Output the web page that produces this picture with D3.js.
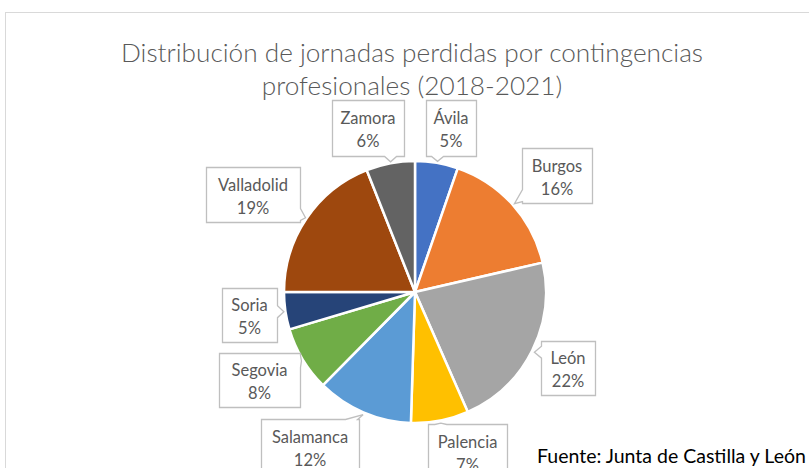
<!DOCTYPE html>
<html>
<head>
<meta charset="utf-8">
<script src="https://cdn.jsdelivr.net/npm/d3@7"></script>
<style>
  body { margin: 0; background: #fff; }
  text { font-family: Lato, "Open Sans", sans-serif; }
</style>
</head>
<body>
<div id="chart"></div>
<script>
  // data (share of lost days, %)
  var regions = ["Ávila", "Burgos", "León", "Palencia", "Salamanca", "Segovia", "Soria", "Valladolid", "Zamora"];
  var shares = [5.3, 16.1, 22.0, 7.1, 11.9, 8.0, 4.6, 19.0, 6.0];
  var colors = ["#4472C4", "#ED7D31", "#A5A5A5", "#FFC000", "#5B9BD5", "#70AD47", "#264478", "#9E480E", "#636363"];
  var titleLines = ["Distribución de jornadas perdidas por contingencias", "profesionales (2018-2021)"];
  var source = "Fuente: Junta de Castilla y León";

  // callout boxes for the data labels (layout only)
  var labelBoxes = [
      {x: 426, y: 100, w: 50, h: 56},
      {x: 522, y: 148, w: 70, h: 55},
      {x: 541, y: 341, w: 54, h: 54},
      {x: 428, y: 424, w: 79, h: 56},
      {x: 261, y: 419, w: 98, h: 56},
      {x: 219, y: 353, w: 81, h: 54},
      {x: 222, y: 288, w: 55, h: 54},
      {x: 206, y: 167, w: 94, h: 55},
      {x: 332, y: 100, w: 72, h: 56}
  ];

  var width = 809, height = 468,
      cx = 415, cy = 292, radius = 131;

  var svg = d3.select("#chart")
      .append("svg")
      .attr("width", width)
      .attr("height", height);

  // chart area border
  svg.append("rect")
      .attr("x", 5.5)
      .attr("y", 12.5)
      .attr("width", 830)
      .attr("height", 480)
      .attr("fill", "#fff")
      .attr("stroke", "#D9D9D9");

  // title
  svg.append("text")
      .attr("x", 412)
      .attr("y", 62)
      .attr("text-anchor", "middle")
      .attr("font-size", 26.2)
      .attr("font-weight", 300)
      .attr("fill", "#595959")
      .selectAll("tspan")
      .data(titleLines)
      .enter()
      .append("tspan")
      .attr("x", 412)
      .attr("dy", function (d, i) { return i == 0 ? 0 : 33; })
      .text(function (d) { return d; });

  var total = d3.sum(shares);
  var pct = d3.format(".0%");

  var pie = d3.pie().sort(null).value(function (d) { return d; });
  var arcs = pie(shares);
  var arc = d3.arc().innerRadius(0).outerRadius(radius);

  var g = svg.append("g")
      .attr("transform", "translate(" + cx + "," + cy + ")");

  g.selectAll("path")
      .data(arcs)
      .enter()
      .append("path")
      .attr("d", arc)
      .attr("fill", function (d, i) { return colors[i]; })
      .attr("stroke", "#fff")
      .attr("stroke-width", 2.5)
      .attr("stroke-linejoin", "round");

  // callout shape: rectangle with a small notch pointing at the slice
  function calloutPath(b, tx, ty) {
      var x0 = b.x, y0 = b.y, x1 = b.x + b.w, y1 = b.y + b.h, half = 6;
      var side;
      var ox = tx < x0 ? x0 - tx : (tx > x1 ? tx - x1 : 0);
      var oy = ty < y0 ? y0 - ty : (ty > y1 ? ty - y1 : 0);
      if (ox >= oy) side = tx < x0 ? "left" : "right";
      else side = ty < y0 ? "top" : "bottom";
      var p = [];
      if (side == "top") {
          var mx = Math.max(x0 + half + 2, Math.min(x1 - half - 2, tx));
          p = [[x0, y0], [mx - half, y0], [tx, ty], [mx + half, y0], [x1, y0], [x1, y1], [x0, y1]];
      } else if (side == "right") {
          var my = Math.max(y0 + half + 2, Math.min(y1 - half - 2, ty));
          p = [[x0, y0], [x1, y0], [x1, my - half], [tx, ty], [x1, my + half], [x1, y1], [x0, y1]];
      } else if (side == "bottom") {
          var mx2 = Math.max(x0 + half + 2, Math.min(x1 - half - 2, tx));
          p = [[x0, y0], [x1, y0], [x1, y1], [mx2 + half, y1], [tx, ty], [mx2 - half, y1], [x0, y1]];
      } else {
          var my2 = Math.max(y0 + half + 2, Math.min(y1 - half - 2, ty));
          p = [[x0, y0], [x1, y0], [x1, y1], [x0, y1], [x0, my2 + half], [tx, ty], [x0, my2 - half]];
      }
      return "M" + p.map(function (q) { return q[0] + "," + q[1]; }).join("L") + "Z";
  }

  var labels = svg.append("g");

  arcs.forEach(function (d, i) {
      var b = labelBoxes[i];
      var mid = (d.startAngle + d.endAngle) / 2;
      var tx = cx + Math.sin(mid) * (radius + 2),
          ty = cy - Math.cos(mid) * (radius + 2);

      labels.append("path")
          .attr("d", calloutPath(b, tx, ty))
          .attr("transform", "translate(0.5,0.5)")
          .attr("fill", "#fff")
          .attr("stroke", "#BFBFBF")
          .attr("stroke-width", 1.3);

      var t = labels.append("text")
          .attr("text-anchor", "middle")
          .attr("font-size", 16.5)
          .attr("fill", "#595959");
      t.append("tspan")
          .attr("x", b.x + b.w / 2)
          .attr("y", b.y + b.h / 2 - 4)
          .text(regions[i]);
      t.append("tspan")
          .attr("x", b.x + b.w / 2)
          .attr("y", b.y + b.h / 2 + 19)
          .text(pct(shares[i] / total));
  });

  // source note
  svg.append("text")
      .attr("x", 537)
      .attr("y", 463)
      .attr("font-size", 19.5)
      .attr("fill", "#000")
      .text(source);
</script>
</body>
</html>
